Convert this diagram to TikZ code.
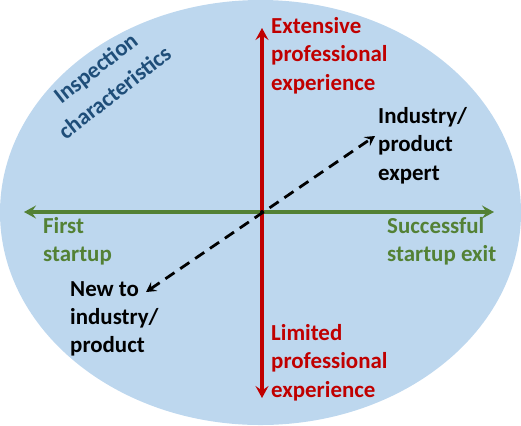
\documentclass[tikz,border=0pt]{standalone}
\usepackage{fontspec}
\setmainfont{Carlito}
\usetikzlibrary{arrows.meta}

\definecolor{ovalblue}{HTML}{BDD7EE}
\definecolor{expred}{HTML}{C00000}
\definecolor{exitgreen}{HTML}{538135}
\definecolor{titleblue}{HTML}{1F4E79}

\begin{document}
\begin{tikzpicture}[
		x=1bp,
		y=-1bp,
		every node/.style={
			inner sep=0pt,
			font=\fontsize{23}{28.5}\selectfont\bfseries,
			align=left,
			anchor=north west,
		},
		axis/.style={
			line width=3.1bp,
			{Stealth[length=12bp,width=13bp,inset=4.5bp]}-{Stealth[length=12bp,width=13bp,inset=4.5bp]},
		},
		expertise/.style={
			line width=2.8bp,
			dash pattern=on 11bp off 7bp,
			{Stealth[length=10bp,width=11bp,inset=4bp]}-{Stealth[length=10bp,width=11bp,inset=4bp]},
		},
	]
		\useasboundingbox (0,0) rectangle (521,425);
		\fill[ovalblue] (260.5,212.5) ellipse [x radius=260.5, y radius=212.5];

		\coordinate (o) at (262,212);
		\coordinate (top) at (262,28);
		\coordinate (bottom) at (262,398);
		\coordinate (left) at (24,212);
		\coordinate (right) at (494,212);
		\coordinate (low) at (146,292);
		\coordinate (high) at (375,136);

		\draw[axis, exitgreen] (left) -- (right);
		\draw[axis, expred] (bottom) -- (top);
		\draw[expertise] (low) -- (high);
		\fill (o) circle (2bp);

		\node[text=titleblue, align=center, anchor=center, rotate=38,
			font=\fontsize{23}{31}\selectfont\bfseries] (inspect) at (105,80) {Inspection\\characteristics};
		\node[text=expred] (extensive) at (271,17) {Extensive\\professional\\experience};
		\node[text=expred] (limited) at (271,324) {Limited\\professional\\experience};
		\node[text=exitgreen] (first) at (43,217) {First\\startup};
		\node[text=exitgreen] (exit) at (387,217) {Successful\\startup exit};
		\node (expert) at (378,107) {Industry/\\product\\expert};
		\node (newcomer) at (70,281) {New to\\industry/\\product};
	\end{tikzpicture}
\end{document}
